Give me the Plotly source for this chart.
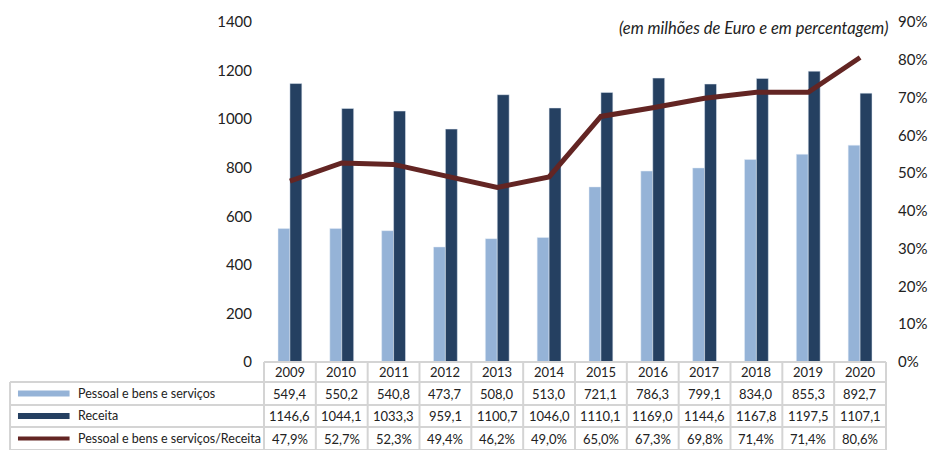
import plotly.graph_objects as go

anos = ["2009", "2010", "2011", "2012", "2013", "2014",
        "2015", "2016", "2017", "2018", "2019", "2020"]
pessoal = [549.4, 550.2, 540.8, 473.7, 508.0, 513.0,
           721.1, 786.3, 799.1, 834.0, 855.3, 892.7]
receita = [1146.6, 1044.1, 1033.3, 959.1, 1100.7, 1046.0,
           1110.1, 1169.0, 1144.6, 1167.8, 1197.5, 1107.1]
racio = [47.9, 52.7, 52.3, 49.4, 46.2, 49.0,
         65.0, 67.3, 69.8, 71.4, 71.4, 80.6]

nomes = ["Pessoal e bens e serviços", "Receita", "Pessoal e bens e serviços/Receita"]
cores = ["#95B3D7", "#254061", "#632523"]
FONT = "Lato"

# plot area in pixels (939x450 window)
W, H = 939, 450
L, R, T, B = 264, 48, 22, 88
PW, PH = W - L - R, H - T - B


def px(x):
    return (x - L) / PW


def py(y):
    return (H - B - y) / PH


def fmt(v, suf=""):
    return f"{v:.1f}".replace(".", ",") + suf


fig = go.Figure()
fig.add_bar(x=anos, y=pessoal, name=nomes[0], marker_color=cores[0])
fig.add_bar(x=anos, y=receita, name=nomes[1], marker_color=cores[1])
fig.add_scatter(x=anos, y=racio, name=nomes[2], yaxis="y2", mode="lines",
                line=dict(color=cores[2], width=5))

fig.update_layout(
    width=W, height=H,
    margin=dict(l=L, r=R, t=T, b=B),
    plot_bgcolor="white", paper_bgcolor="white",
    barmode="group", bargap=0.54, bargroupgap=0,
    showlegend=False,
    font=dict(family=FONT, size=15, color="#222222"),
    xaxis=dict(type="category", range=[-0.5, 11.5], showticklabels=False,
               showline=False, showgrid=False, ticks=""),
    yaxis=dict(range=[0, 1400], dtick=200, showgrid=False, zeroline=False,
               showline=False, ticks="", tickfont=dict(size=15),
               ticklabelstandoff=11),
    yaxis2=dict(range=[0, 90], dtick=10, ticksuffix="%", overlaying="y",
                side="right", showgrid=False, zeroline=False, showline=False,
                ticks="", tickfont=dict(size=15), ticklabelstandoff=11),
)

fig.add_annotation(text="<i>(em milhões de Euro e em percentagem)</i>",
                   xref="paper", yref="paper", x=px(895), y=py(28),
                   xanchor="right", yanchor="middle", showarrow=False,
                   font=dict(size=16.5, family=FONT))

# data table grid
grid = dict(color="#D4D4D4", width=2)
rows_y = [362, 382, 405, 427, 450]
left_label = 8
right_edge = L + PW
fig.add_shape(type="line", xref="paper", yref="paper", x0=px(L), x1=px(right_edge),
              y0=py(rows_y[0]), y1=py(rows_y[0]), line=grid)
for yy in rows_y[1:]:
    fig.add_shape(type="line", xref="paper", yref="paper", x0=px(left_label),
                  x1=px(right_edge), y0=py(yy), y1=py(yy), line=grid)
fig.add_shape(type="line", xref="paper", yref="paper", x0=px(left_label),
              x1=px(left_label), y0=py(rows_y[1]), y1=py(rows_y[4]), line=grid)
for i in range(len(anos) + 1):
    xx = L + PW * i / len(anos)
    fig.add_shape(type="line", xref="paper", yref="paper", x0=px(xx), x1=px(xx),
                  y0=py(rows_y[0]), y1=py(rows_y[4]), line=grid)

centers = [(rows_y[k] + rows_y[k + 1]) / 2 for k in range(4)]
linhas = [anos,
          [fmt(v) for v in pessoal],
          [fmt(v) for v in receita],
          [fmt(v, "%") for v in racio]]
for k, vals in enumerate(linhas):
    for i, txt in enumerate(vals):
        # numeric category index: year strings would be read as indices
        fig.add_annotation(text=txt, x=i, xref="x", yref="paper", y=py(centers[k]),
                           showarrow=False, font=dict(size=13, family=FONT),
                           xanchor="center", yanchor="middle")

# row labels with legend keys
for k, nome in enumerate(nomes):
    cy = centers[k + 1]
    fig.add_annotation(text=nome, xref="paper", yref="paper", x=px(74), y=py(cy),
                       xanchor="left", yanchor="middle", showarrow=False,
                       font=dict(size=12.5, family=FONT))
    if k < 2:
        fig.add_shape(type="rect", xref="paper", yref="paper", x0=px(16), x1=px(68),
                      y0=py(cy - 3), y1=py(cy + 3), fillcolor=cores[k], line_width=0)
    else:
        fig.add_shape(type="line", xref="paper", yref="paper", x0=px(16), x1=px(68),
                      y0=py(cy), y1=py(cy), line=dict(color=cores[k], width=4))

fig.write_html("out.html", config={"displayModeBar": False},
               post_script="document.body.style.margin='0';"
                           "document.body.style.overflow='hidden';")
